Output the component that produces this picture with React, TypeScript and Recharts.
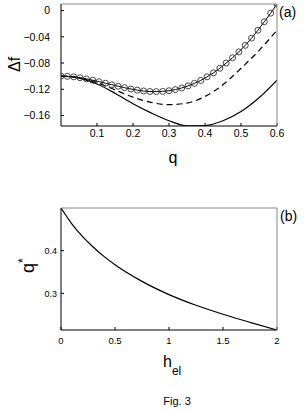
import React from 'react';
import { LineChart, Line, XAxis, YAxis } from 'recharts';

// Panel (a): Δf vs q
const qCircles = [
  0, 0.0176, 0.0353, 0.0529, 0.0706, 0.0882, 0.1059, 0.1235, 0.1412, 0.1588,
  0.1765, 0.1941, 0.2118, 0.2294, 0.2471, 0.2647, 0.2824, 0.3, 0.3176, 0.3353,
  0.3529, 0.3706, 0.3882, 0.4059, 0.4235, 0.4412, 0.4588, 0.4765, 0.4941, 0.5118,
  0.5294, 0.5471, 0.5647, 0.5824, 0.6,
];
const dfCircles = [
  -0.1, -0.1003, -0.1011, -0.1024, -0.1042, -0.1062, -0.1085, -0.1108, -0.1131, -0.1154,
  -0.1176, -0.1196, -0.1213, -0.1226, -0.1234, -0.1236, -0.1232, -0.1222, -0.1205, -0.118,
  -0.1148, -0.111, -0.1065, -0.101, -0.095, -0.088, -0.08, -0.072, -0.063, -0.053,
  -0.042, -0.03, -0.017, -0.004, 0.01,
];
const qCurves = [0, 0.05, 0.1, 0.15, 0.2, 0.25, 0.3, 0.35, 0.4, 0.45, 0.5, 0.55, 0.6];
const dfDashed = [-0.1, -0.1025, -0.11, -0.121, -0.132, -0.14, -0.1435, -0.141, -0.131, -0.113, -0.088, -0.061, -0.03];
const dfSolid = [-0.1, -0.103, -0.112, -0.126, -0.142, -0.156, -0.168, -0.1757, -0.1752, -0.168, -0.154, -0.133, -0.106];
const ticksQ = [0.1, 0.2, 0.3, 0.4, 0.5, 0.6];
const ticksDf = [-0.16, -0.12, -0.08, -0.04, 0];

// Panel (b): q* vs h_el
const hEl = [0, 0.1, 0.2, 0.3, 0.4, 0.5, 0.75, 1, 1.25, 1.5, 1.75, 2];
const qStar = [0.5, 0.463, 0.433, 0.408, 0.386, 0.367, 0.328, 0.297, 0.272, 0.251, 0.232, 0.214];
const ticksH = [0, 0.5, 1, 1.5, 2];
const ticksQStar = [0.3, 0.4];

const circleData = qCircles.map((q, i) => ({ q, v: dfCircles[i] }));
const dashedData = qCurves.map((q, i) => ({ q, v: dfDashed[i] }));
const solidData = qCurves.map((q, i) => ({ q, v: dfSolid[i] }));
const bData = hEl.map((h, i) => ({ h, v: qStar[i] }));

const FONT = '"Liberation Sans", Arial, Helvetica, sans-serif';
const fmt = (v: number) => (v === 0 ? '0' : String(v).replace('-', '\u2212'));

export default function App() {
  return (
    <div style={{ position: 'absolute', left: 0, top: 0, width: 306, height: 411, background: '#fff', fontFamily: FONT }}>
      <div style={{ position: 'absolute', left: 0, top: 0 }}>
        <LineChart width={306} height={145} margin={{ top: 3, right: 28, bottom: 0, left: 0 }}>
          <XAxis xAxisId="b" dataKey="q" type="number" domain={[0, 0.6]} ticks={ticksQ} height={19}
            tickSize={-3} tickMargin={7} stroke="#000" tick={{ fill: '#000', fontSize: 10.5, fontFamily: FONT }}
            tickFormatter={fmt} allowDataOverflow />
          <XAxis xAxisId="t" orientation="top" dataKey="q" type="number" domain={[0, 0.6]} ticks={ticksQ} height={1}
            tickSize={-3} tick={false} stroke="#888" allowDataOverflow />
          <YAxis yAxisId="l" type="number" domain={[-0.176, 0.01]} ticks={ticksDf} width={61}
            tickSize={-3} tickMargin={14} stroke="#000" tick={{ fill: '#000', fontSize: 10.5, fontFamily: FONT }}
            tickFormatter={fmt} allowDataOverflow />
          <YAxis yAxisId="r" orientation="right" type="number" domain={[-0.176, 0.01]} ticks={ticksDf} width={1}
            tickSize={-3} tick={false} stroke="#888" allowDataOverflow />
          <Line xAxisId="b" yAxisId="l" data={solidData} dataKey="v" type="monotone" stroke="#000" strokeWidth={1.2}
            dot={false} activeDot={false} isAnimationActive={false} />
          <Line xAxisId="b" yAxisId="l" data={dashedData} dataKey="v" type="monotone" stroke="#000" strokeWidth={1.2}
            strokeDasharray="6 4" dot={false} activeDot={false} isAnimationActive={false} />
          <Line xAxisId="b" yAxisId="l" data={circleData} dataKey="v" type="monotone" stroke="#000" strokeWidth={1}
            dot={{ r: 3, stroke: '#333', strokeWidth: 0.9, fill: 'none' }} activeDot={false} isAnimationActive={false} />
        </LineChart>
      </div>
      <div style={{ position: 'absolute', left: 0, top: 190 }}>
        <LineChart width={306} height={160} margin={{ top: 17, right: 28, bottom: 0, left: 0 }}>
          <XAxis xAxisId="b" dataKey="h" type="number" domain={[0, 2]} ticks={ticksH} height={20}
            tickSize={-3} tickMargin={10} stroke="#000" tick={{ fill: '#000', fontSize: 9.5, fontFamily: FONT }}
            tickFormatter={fmt} allowDataOverflow />
          <XAxis xAxisId="t" orientation="top" dataKey="h" type="number" domain={[0, 2]} ticks={ticksH} height={1}
            tickSize={-3} tick={false} stroke="#888" allowDataOverflow />
          <YAxis yAxisId="l" type="number" domain={[0.214, 0.5]} ticks={ticksQStar} width={61}
            tickSize={-3} tickMargin={7} stroke="#000" tick={{ fill: '#000', fontSize: 9, fontFamily: FONT }}
            tickFormatter={fmt} allowDataOverflow />
          <YAxis yAxisId="r" orientation="right" type="number" domain={[0.214, 0.5]} ticks={ticksQStar} width={1}
            tickSize={-3} tick={false} stroke="#888" allowDataOverflow />
          <Line xAxisId="b" yAxisId="l" data={bData} dataKey="v" type="monotone" stroke="#000" strokeWidth={1.2}
            dot={false} activeDot={false} isAnimationActive={false} />
        </LineChart>
      </div>
      <svg width={306} height={411} style={{ position: 'absolute', left: 0, top: 0, pointerEvents: 'none' }}
        fontFamily={FONT} fill="#000">
        <text transform="translate(20,72) rotate(-90)" fontSize={16}>Δf</text>
        <text x={173} y={163} fontSize={16} textAnchor="middle">q</text>
        <text x={279} y={17} fontSize={14}>(a)</text>
        <text x={280} y={221} fontSize={14}>(b)</text>
        <text transform="translate(34,273) rotate(-90)" fontSize={18}>q<tspan dy={-7} fontSize={12}>*</tspan></text>
        <text x={163} y={367} fontSize={16}>h<tspan dy={8} fontSize={12}>el</tspan></text>
        <text x={177} y={405} fontSize={11} textAnchor="middle">Fig. 3</text>
      </svg>
    </div>
  );
}
